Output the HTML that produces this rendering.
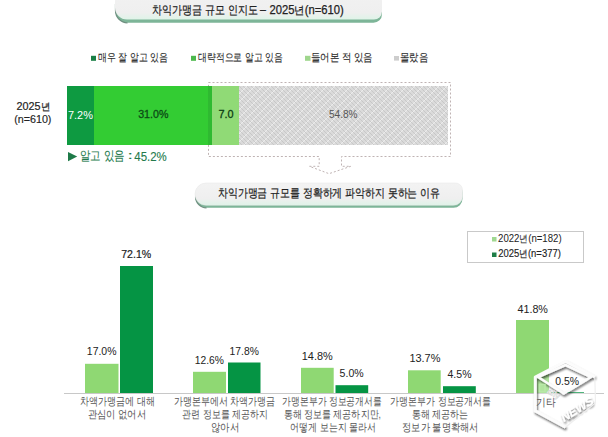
<!DOCTYPE html>
<html><head><meta charset="utf-8">
<style>
html,body{margin:0;padding:0;background:#fff;width:608px;height:437px;overflow:hidden}
svg{display:block;font-family:"Liberation Sans",sans-serif}
</style></head>
<body>
<svg width="608" height="437" viewBox="0 0 608 437">
<defs>
<linearGradient id="pillg" x1="0" y1="0" x2="0" y2="1">
<stop offset="0" stop-color="#f2f2f2"/>
<stop offset="0.8" stop-color="#efefef"/>
<stop offset="1" stop-color="#dff3e8"/>
</linearGradient>
<linearGradient id="pillg2" x1="0" y1="0" x2="0" y2="1">
<stop offset="0" stop-color="#f3f3f3"/>
<stop offset="0.7" stop-color="#efefef"/>
<stop offset="1" stop-color="#dff3e8"/>
</linearGradient>
<pattern id="hatch" width="8" height="8" patternUnits="userSpaceOnUse" x="239" y="86">
<rect width="8" height="8" fill="#dadada"/>
<path d="M0,8 L8,0 M-1,1 L1,-1 M7,9 L9,7" stroke="#ededed" stroke-width="1.1"/>
<path d="M0,0 L8,8 M4,0 L8,4 M0,4 L4,8 M-1,7 L1,9 M7,-1 L9,1 M-1,3 L1,5 M3,-1 L5,1 M7,3 L9,5 M3,7 L5,9" stroke="#c6c6c6" stroke-width="0.85"/>
</pattern>
</defs>
<!-- title pill 1 -->
<path d="M127.5,-12 H373.5 A8.5,8.5 0 0 1 382,-3.5 V14.3 A8.5,8.5 0 0 1 373.5,22.8 H127.5 A12,12 0 0 1 115.5,10.8 V0 A12,12 0 0 1 127.5,-12 Z" fill="#7db598"/>
<path d="M127.5,22.8 A12,12 0 0 1 115.5,10.8 V4" fill="none" stroke="#6f8f80" stroke-width="1.2"/>
<path d="M127,-15 H374 A8,8 0 0 1 382,-7 V11.5 A8,8 0 0 1 374,19.5 H127 A12,12 0 0 1 115,7.5 V-3 A12,12 0 0 1 127,-15 Z" fill="url(#pillg)"/>
<!-- legend squares -->
<rect x="91" y="55.8" width="5" height="5" fill="#1a7f45"/>
<rect x="191" y="55.8" width="5" height="5" fill="#4cb84c"/>
<rect x="305" y="55.8" width="5.5" height="5" fill="#9fd68d"/>
<rect x="394" y="56" width="5" height="4.6" fill="#cdcdcd"/>
<!-- dashed callout -->
<path d="M208.5,82.5 H450.5 V156.5 H341.5 V166.3 H350.8 L329,173.7 L309.4,166.3 H319.2 V156.5 H208.5 Z" fill="none" stroke="#bfb3b3" stroke-width="1" stroke-dasharray="2,2"/>
<!-- stacked bar -->
<rect x="67" y="86" width="27" height="59" fill="#0e9a41"/>
<rect x="94" y="86" width="118" height="59" fill="#33cc33"/>
<rect x="208" y="86" width="4" height="59" fill="#2fba31"/>
<rect x="212" y="86" width="27" height="59" fill="#90da76"/>
<rect x="239" y="86" width="209" height="59" fill="url(#hatch)"/>
<!-- known arrow -->
<path d="M68,152 L77.2,156.6 L68,161.2 Z" fill="#1e7a48"/>
<!-- title pill 2 -->
<path d="M206.5,185.5 H455.5 A7,7 0 0 1 462.5,192.5 V198.8 A9,9 0 0 1 453.5,207.8 H206.5 A11,11 0 0 1 195.5,196.8 V196.5 A11,11 0 0 1 206.5,185.5 Z" fill="#7db598"/>
<path d="M206.5,207.8 A11,11 0 0 1 195.5,196.8" fill="none" stroke="#6f8f80" stroke-width="1.2"/>
<path d="M206,183 H455.5 A7,7 0 0 1 462.5,190 V196.3 A9,9 0 0 1 453.5,205.3 H206 A11,11 0 0 1 195,194.3 V194 A11,11 0 0 1 206,183 Z" fill="url(#pillg2)" stroke="#e6e6e6" stroke-width="0.5"/>
<!-- legend box -->
<rect x="467.5" y="231.5" width="116" height="31" fill="#fff" stroke="#c9c9c9" stroke-width="1"/>
<rect x="492" y="237" width="4.5" height="4.5" fill="#a0d890"/>
<rect x="492" y="252.5" width="4.5" height="4.5" fill="#1f7d47"/>
<!-- bottom chart bars -->
<rect x="85" y="363.8" width="33.5" height="29.2" fill="#8fd873"/>
<rect x="120" y="266" width="33" height="127" fill="#059444"/>
<rect x="193" y="371.8" width="33" height="21.2" fill="#8fd873"/>
<rect x="228" y="362.5" width="32.5" height="30.5" fill="#059444"/>
<rect x="301" y="367.8" width="32.7" height="25.2" fill="#8fd873"/>
<rect x="335.5" y="385.2" width="32.7" height="7.8" fill="#059444"/>
<rect x="408" y="370.3" width="32.7" height="22.7" fill="#8fd873"/>
<rect x="443" y="386.2" width="32.8" height="6.8" fill="#059444"/>
<rect x="516" y="320" width="33" height="73" fill="#8fd873"/>
<rect x="551" y="392" width="33" height="1" fill="#059444"/>
<rect x="64" y="393" width="540" height="1" fill="#c8c8c8"/>
<defs>
<filter id="wmsh" x="-30%" y="-30%" width="160%" height="160%">
<feGaussianBlur in="SourceAlpha" stdDeviation="1.2"/>
<feOffset dx="1" dy="1.5" result="b"/>
<feComponentTransfer><feFuncA type="linear" slope="0.6"/></feComponentTransfer>
<feMerge><feMergeNode/><feMergeNode in="SourceGraphic"/></feMerge>
</filter>
</defs>
<g>
<path d="M535.3,377 L565.5,361.4 L594.8,377 L595.5,403 L565.5,427.3 L535.3,410.9 Z" fill="#ffffff" fill-opacity="0.3"/>
<g filter="url(#wmsh)">
<path d="M594.8,377 L565.5,361.4 L535.3,377 L535.3,410.9 L565.5,427.3" fill="none" stroke="#fcfcfc" stroke-width="3" stroke-linejoin="round"/>
<path d="M538,377 L565.5,365 L591,377 L563.7,393.5 Z" fill="none" stroke="#fcfcfc" stroke-width="2.6" stroke-linejoin="round"/>
<text x="0" y="0" font-size="11.5" font-weight="bold" font-style="italic" fill="#ffffff" transform="translate(564,422) rotate(-32)" textLength="36" lengthAdjust="spacingAndGlyphs">NEWS</text>
</g>
<path d="M594.8,377 L595.5,403 L565.5,427.3" fill="none" stroke="#efefef" stroke-width="1.2"/>
<rect x="539.5" y="384.5" width="5.5" height="7" fill="none" stroke="#b8e8a8" stroke-width="1.6"/>
<text x="0" y="0" font-size="8" font-weight="bold" fill="#f4f4f4" stroke="#d0d0d0" stroke-width="0.4" transform="translate(546.5,393) rotate(28)">aily</text>
</g>
<text x="151.87" y="13.551372549019606" font-size="12" textLength="105.83" lengthAdjust="spacingAndGlyphs" fill="#222" stroke="#222" stroke-width="0.22">차익가맹금 규모 인지도</text>
<text x="260.12" y="13.680000000000001" font-size="12" textLength="5.92" lengthAdjust="spacingAndGlyphs" fill="#222" stroke="#222" stroke-width="0.22">–</text>
<text x="269.48" y="13.56745098039216" font-size="12" textLength="74.21" lengthAdjust="spacingAndGlyphs" fill="#222" stroke="#222" stroke-width="0.25">2025<tspan font-size="11">년</tspan>(n=610)</text>
<text x="217.80" y="197.46" font-size="12" textLength="222.15" lengthAdjust="spacingAndGlyphs" fill="#222" stroke="#222" stroke-width="0.22">차익가맹금 규모를 정확하게 파악하지 못하는 이유</text>
<text x="98.08" y="60.83764705882352" font-size="10.5" textLength="69.68" lengthAdjust="spacingAndGlyphs" fill="#2a2a2a" stroke="#2a2a2a" stroke-width="0.1">매우 잘 알고 있음</text>
<text x="198.05" y="60.85333333333333" font-size="10.5" textLength="84.41" lengthAdjust="spacingAndGlyphs" fill="#2a2a2a" stroke="#2a2a2a" stroke-width="0.1">대략적으로 알고 있음</text>
<text x="311.00" y="60.74745098039215" font-size="10.5" textLength="61.96" lengthAdjust="spacingAndGlyphs" fill="#2a2a2a" stroke="#2a2a2a" stroke-width="0.1">들어본 적 있음</text>
<text x="399.79" y="60.800392156862735" font-size="10.5" textLength="28.42" lengthAdjust="spacingAndGlyphs" fill="#2a2a2a" stroke="#2a2a2a" stroke-width="0.1">몰랐음</text>
<text x="16.48" y="109.64156862745101" font-size="11.5" textLength="33.49" lengthAdjust="spacingAndGlyphs" fill="#222" stroke="#222" stroke-width="0.2">2025<tspan font-size="10">년</tspan></text>
<text x="14.20" y="123.33764705882352" font-size="11.5" textLength="37.24" lengthAdjust="spacingAndGlyphs" fill="#222" stroke="#222" stroke-width="0.15">(n=610)</text>
<text x="67.97" y="118.84000000000002" font-size="11.5" textLength="24.95" lengthAdjust="spacingAndGlyphs" fill="#fff">7.2%</text>
<text x="138.19" y="118.47999999999998" font-size="11.5" textLength="30.23" lengthAdjust="spacingAndGlyphs" fill="#0b4a16" stroke="#0b4a16" stroke-width="0.3">31.0%</text>
<text x="218.45" y="118.15999999999998" font-size="11.5" textLength="15.14" lengthAdjust="spacingAndGlyphs" fill="#0b3d12" stroke="#0b3d12" stroke-width="0.3">7.0</text>
<text x="329.02" y="118.32000000000001" font-size="11" textLength="28.52" lengthAdjust="spacingAndGlyphs" fill="#555">54.8%</text>
<text x="79.90" y="160.45686274509805" font-size="12.5" textLength="44.79" lengthAdjust="spacingAndGlyphs" fill="#237a4b" stroke="#237a4b" stroke-width="0.1">알고 있음</text>
<text x="127.49" y="159.16000000000003" font-size="11" textLength="5.41" lengthAdjust="spacingAndGlyphs" fill="#237a4b" stroke="#237a4b" stroke-width="0.1">:</text>
<text x="134.32" y="160.72000000000006" font-size="12" textLength="32.50" lengthAdjust="spacingAndGlyphs" fill="#237a4b" stroke="#237a4b" stroke-width="0.1">45.2%</text>
<text x="498.06" y="241.98313725490195" font-size="11" textLength="63.54" lengthAdjust="spacingAndGlyphs" fill="#222">2022<tspan font-size="10">년</tspan>(n=182)</text>
<text x="498.29" y="257.47372549019605" font-size="11" textLength="62.56" lengthAdjust="spacingAndGlyphs" fill="#222" stroke="#222" stroke-width="0.15">2025<tspan font-size="10">년</tspan>(n=377)</text>
<text x="86.84" y="355.44000000000005" font-size="11" textLength="29.64" lengthAdjust="spacingAndGlyphs" fill="#222">17.0%</text>
<text x="194.72" y="364.4200000000002" font-size="11" textLength="29.16" lengthAdjust="spacingAndGlyphs" fill="#222">12.6%</text>
<text x="229.60" y="354.5799999999998" font-size="11" textLength="29.27" lengthAdjust="spacingAndGlyphs" fill="#222">17.8%</text>
<text x="301.77" y="360.1423529411765" font-size="11" textLength="30.98" lengthAdjust="spacingAndGlyphs" fill="#222">14.8%</text>
<text x="339.62" y="377.16" font-size="11" textLength="24.05" lengthAdjust="spacingAndGlyphs" fill="#222">5.0%</text>
<text x="409.41" y="361.7399999999999" font-size="11" textLength="31.03" lengthAdjust="spacingAndGlyphs" fill="#222">13.7%</text>
<text x="447.48" y="377.7" font-size="11" textLength="24.06" lengthAdjust="spacingAndGlyphs" fill="#222">4.5%</text>
<text x="517.47" y="312.7423529411766" font-size="11" textLength="30.47" lengthAdjust="spacingAndGlyphs" fill="#222">41.8%</text>
<text x="555.21" y="384.9800000000001" font-size="11" textLength="23.84" lengthAdjust="spacingAndGlyphs" fill="#222">0.5%</text>
<text x="121.20" y="257.82" font-size="11" textLength="30.02" lengthAdjust="spacingAndGlyphs" fill="#222" stroke="#222" stroke-width="0.2">72.1%</text>
<text x="79.97" y="405.12196078431367" font-size="10.5" textLength="74.67" lengthAdjust="spacingAndGlyphs" fill="#555">차액가맹금에 대해</text>
<text x="87.55" y="418.38313725490207" font-size="10.5" textLength="58.45" lengthAdjust="spacingAndGlyphs" fill="#555">관심이 없어서</text>
<text x="174.01" y="405.12196078431367" font-size="10.5" textLength="101.36" lengthAdjust="spacingAndGlyphs" fill="#555">가맹본부에서 차액가맹금</text>
<text x="182.49" y="418.2733333333333" font-size="10.5" textLength="85.19" lengthAdjust="spacingAndGlyphs" fill="#555">관련 정보를 제공하지</text>
<text x="210.73" y="431.2380392156863" font-size="10.5" textLength="28.50" lengthAdjust="spacingAndGlyphs" fill="#555">않아서</text>
<text x="282.44" y="405.15333333333325" font-size="10.5" textLength="99.16" lengthAdjust="spacingAndGlyphs" fill="#555">가맹본부가 정보공개서를</text>
<text x="283.66" y="418.2733333333333" font-size="10.5" textLength="97.26" lengthAdjust="spacingAndGlyphs" fill="#555">통해 정보를 제공하지만,</text>
<text x="290.40" y="430.9713725490195" font-size="10.5" textLength="85.33" lengthAdjust="spacingAndGlyphs" fill="#555">어떻게 보는지 몰라서</text>
<text x="390.48" y="405.15333333333325" font-size="10.5" textLength="100.83" lengthAdjust="spacingAndGlyphs" fill="#555">가맹본부가 정보공개서를</text>
<text x="411.58" y="418.2733333333333" font-size="10.5" textLength="56.63" lengthAdjust="spacingAndGlyphs" fill="#555">통해 제공하는</text>
<text x="402.12" y="430.9517647058823" font-size="10.5" textLength="76.43" lengthAdjust="spacingAndGlyphs" fill="#555">정보가 불명확해서</text>
<text x="536.49" y="406.4" font-size="10.5" textLength="19.46" lengthAdjust="spacingAndGlyphs" fill="#555">기타</text>
</svg>
</body></html>
